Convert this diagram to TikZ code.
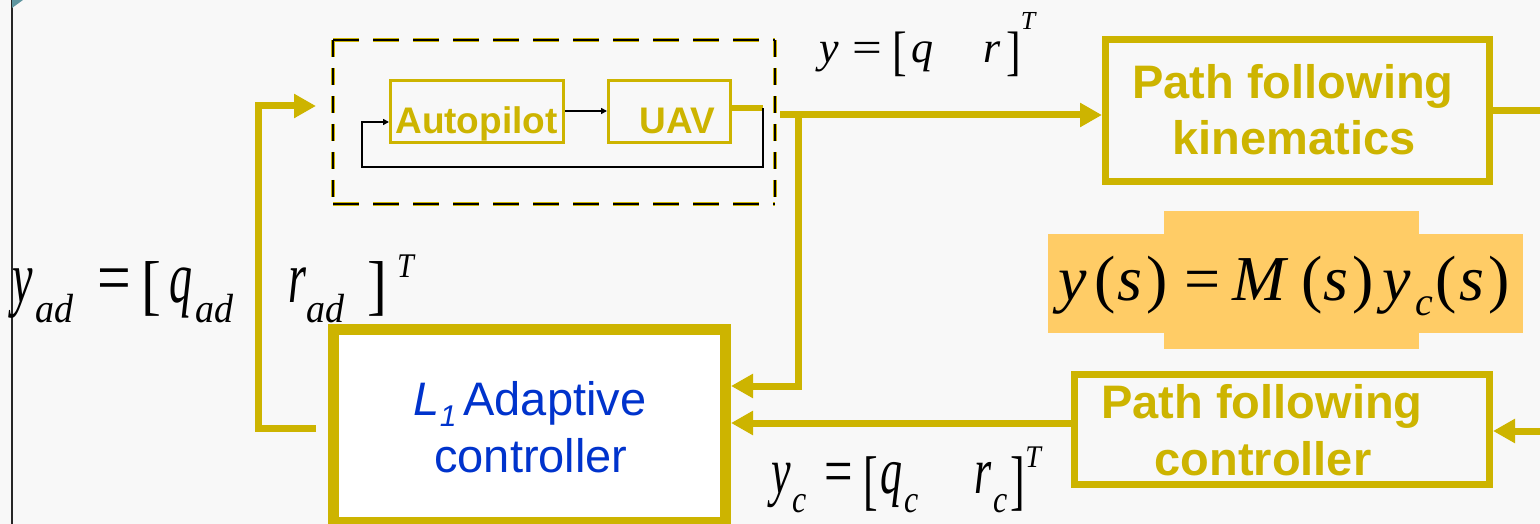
\documentclass[tikz,border=0pt]{standalone}
\usepackage{graphicx}
\usepackage{fontspec}
\setmainfont{Liberation Serif}
\setsansfont{Liberation Sans}
\usetikzlibrary{arrows.meta}
\definecolor{ylw}{RGB}{205,180,0}
\definecolor{hl}{RGB}{255,204,102}
\definecolor{bgc}{RGB}{248,248,248}
\definecolor{tealc}{RGB}{95,150,160}
\definecolor{blu}{RGB}{0,51,204}
\newcommand{\fsz}[1]{\fontsize{#1}{#1}\selectfont}
\newcommand{\brk}[4]{\raisebox{#2}{\scalebox{#3}[#4]{#1}}}
\newcommand{\sbs}[4]{\raisebox{#2}{\scalebox{1}[#3]{\fsz{#1}#4}}}
\newcommand{\eqs}[1]{\scalebox{#1}[1]{=}}
\begin{document}
\begin{tikzpicture}[x=1pt,y=-1pt,
  flow/.style={draw=ylw, line width=7pt},
  arr/.style={flow, -{Triangle[length=22pt,width=23pt]}},
  bline/.style={draw=black, line width=1.6pt},
  barr/.style={bline, -{Triangle[length=6pt,width=6pt]}},
  sbox/.style={draw=ylw, line width=3pt, inner sep=0pt, minimum height=62pt},
  kbox/.style={draw=ylw, line width=7pt, inner sep=0pt},
  stxt/.style={font=\sffamily\bfseries\fsz{37}, text=ylw, inner sep=0pt},
  btxt/.style={font=\sffamily\bfseries\fsz{47}, text=ylw, inner sep=0pt},
  ltxt/.style={font=\sffamily\fsz{47}, text=blu, inner sep=0pt},
  mtxt/.style={inner sep=0pt, anchor=base west, text=black},
]
\useasboundingbox (0,0) rectangle (1540,524);
\fill[bgc] (0,0) rectangle (1540,524);
\draw[line width=1.5pt, black!85] (12,0) -- (12,524);
\fill[tealc] (12,0) -- (23,0) -- (12,8) -- cycle;

% dashed frame
\foreach \c/\w in {ylw/4.5pt, black/2.2pt}{
  \draw[\c, line width=\w, dash pattern=on 26pt off 14pt] (333,40) -- (775,40) (333,204) -- (775,204);
  \draw[\c, line width=\w, dash pattern=on 17pt off 11pt] (333,40) -- (333,204) (775,40) -- (775,204);
}

% inner blocks
\node[sbox, minimum width=173pt] (ap) at (477,111.5) {};
\node[stxt, anchor=base] (apt) at (476.5,134) {Autopilot};
\node[sbox, minimum width=122pt] (uav) at (669.5,111.5) {};
\node[stxt, anchor=base] (uavt) at (677,134) {UAV};
\draw[barr] (ap.east |- 0,111) -- (uav.west |- 0,111);
\coordinate (st) at (763,108.5);
\draw[ylw, line width=6pt] (uav.east |- st) -- (st);
\draw[barr] (st) -- (763,167) -- (362,167) -- (362,122) -- (ap.west |- 0,122);

% main blocks
\node[kbox, minimum width=384pt, minimum height=142pt] (kin) at (1297.5,110.5) {};
\node[btxt, anchor=base] (kt1) at (1293,99) {Path following};
\node[btxt, anchor=base] (kt2) at (1294,155) {kinematics};

\node[kbox, minimum width=415pt, minimum height=110pt] (pfc) at (1282,429.5) {};
\node[btxt, anchor=base] (pt1) at (1262,418) {Path following};
\node[btxt, anchor=base] (pt2) at (1263,475) {controller};

\node[draw=ylw, fill=white, line width=11pt, inner sep=0pt, minimum width=392pt, minimum height=193pt] (l1) at (529.5,426) {};
\node[ltxt, anchor=base] (lt1) at (530,415) {\textit{L}\raisebox{-11pt}{\fsz{30}\textit{1}}\kern7pt Adaptive};
\node[ltxt, anchor=base] (lt2) at (531,472) {controller};

% connectors
\coordinate (o1) at (780,115);
\coordinate (j) at (798,115);
\draw[arr] (o1) -- (kin.west |- o1);
\draw[arr] (j) -- (798,386) -- (l1.east |- 0,386);
\coordinate (kout) at (1540,111);
\draw[flow] (kin.east |- kout) -- (kout);
\coordinate (pin) at (1540,431);
\draw[arr] (pin) -- (pfc.east |- pin);
\draw[arr] (pfc.west |- 0,423) -- (l1.east |- 0,423);
\coordinate (lb) at (316,428);
\coordinate (lt) at (316,106);
\draw[arr] (lb) -- (258,428) -- (258,106) -- (lt);

% highlight + equation
\fill[hl] (1048,234) rectangle (1523,333);
\fill[hl] (1164,211) rectangle (1419,349);
\node[mtxt] (eq) at (1058,300) {\fsz{64}\itshape y\upshape\kern8pt(\kern2pt\itshape s\upshape\kern4pt)\kern16pt=\kern12pt\itshape M\upshape\kern16pt(\kern1pt\itshape s\upshape\kern4pt)\kern8pt\itshape y\kern5pt\raisebox{-15pt}{\fsz{40}c}\upshape\kern2pt(\kern3pt\itshape s\upshape\kern4pt)};

% labels
\node[mtxt] (ylab) at (819,63) {\fsz{44}\itshape y\kern14pt\upshape\eqs{1.2}\kern10pt\brk{[}{-6.5pt}{1}{1.23}\kern4pt\itshape q\kern50pt r\kern6pt\upshape\brk{]}{-6.5pt}{1}{1.23}\raisebox{33pt}{\fsz{26}\itshape T}};

\node[mtxt] (yclab) at (771,493) {\scalebox{1}[1.5]{\fsz{44}\itshape y\kern2pt\sbs{32}{-12.7pt}{0.8}{c}\kern18pt\upshape\eqs{1.15}\kern10pt\raisebox{-6.5pt}{[}\kern2pt\itshape q\kern2pt\sbs{32}{-12.7pt}{0.8}{c}\kern56pt r\kern2pt\sbs{32}{-12.7pt}{0.8}{c}\kern3pt\upshape\raisebox{-6.5pt}{]}\raisebox{17pt}{\scalebox{1}[0.75]{\fsz{28}\itshape T}}}};

\node[mtxt] (yadlab) at (12,302) {\scalebox{1}[1.6]{\fsz{46}\itshape y\kern3pt\sbs{38}{-12.5pt}{0.67}{ad}\kern24pt\upshape\eqs{1.3}\kern10pt\brk{[}{-3.6pt}{1.3}{0.9}\kern8pt\itshape q\kern3pt\sbs{38}{-12.5pt}{0.67}{ad}\kern55pt r\sbs{38}{-12.5pt}{0.67}{ad}\kern23pt\upshape\brk{]}{-3.6pt}{1.3}{0.9}\kern10pt\raisebox{15.6pt}{\scalebox{1}[0.72]{\fsz{30}\itshape T}}}};
\end{tikzpicture}
\end{document}
